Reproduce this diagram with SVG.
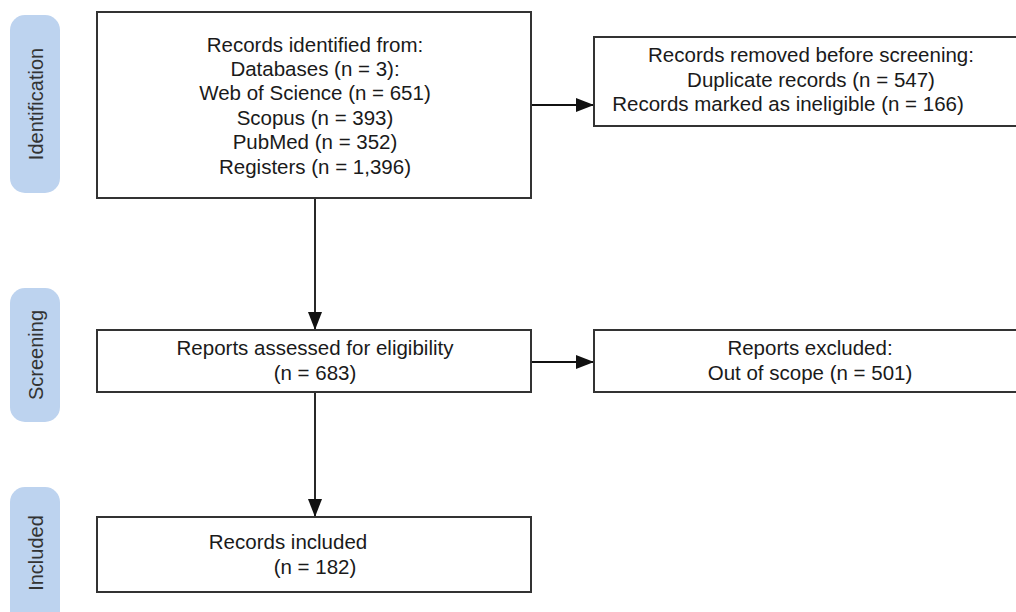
<svg xmlns="http://www.w3.org/2000/svg" width="1016" height="612" viewBox="0 0 1016 612">
  <defs>
    <style>
      .stage { fill: #bdd3ef; }
      .stage-label { font-family: "Liberation Sans", Arial, sans-serif; font-size: 20px; fill: #333333; text-anchor: middle; }
      .box { fill: #ffffff; stroke: #333333; stroke-width: 2; }
      .txt { font-family: "Liberation Sans", Arial, sans-serif; font-size: 20.5px; fill: #1a1a1a; text-anchor: middle; }
      .edge { stroke: #111111; stroke-width: 1.8; fill: none; marker-end: url(#arrow); }
    </style>
    <marker id="arrow" viewBox="0 0 18 14" refX="18" refY="7" markerWidth="18" markerHeight="14" markerUnits="userSpaceOnUse" orient="auto">
      <path d="M0,0 L18,7 L0,14 Z" fill="#111111"/>
    </marker>
  </defs>
  <rect width="1016" height="612" fill="#ffffff"/>

  <!-- stage bands -->
  <g id="stage-identification">
    <rect class="stage" x="10" y="15" width="50" height="178" rx="15" ry="15"/>
    <text class="stage-label" transform="translate(43,104) rotate(-90)">Identification</text>
  </g>
  <g id="stage-screening">
    <rect class="stage" x="10" y="288" width="50" height="134" rx="15" ry="15"/>
    <text class="stage-label" transform="translate(43,355) rotate(-90)">Screening</text>
  </g>
  <g id="stage-included">
    <rect class="stage" x="10" y="487" width="50" height="140" rx="15" ry="15"/>
    <text class="stage-label" transform="translate(43,553) rotate(-90)">Included</text>
  </g>

  <!-- connectors -->
  <g id="connectors">
    <line class="edge" x1="531" y1="105" x2="594" y2="105"/>
    <line class="edge" x1="315" y1="198" x2="315" y2="330"/>
    <line class="edge" x1="531" y1="362" x2="594" y2="362"/>
    <line class="edge" x1="315" y1="392" x2="315" y2="517"/>
  </g>

  <g id="records-identified">
    <rect class="box" x="97" y="12" width="434" height="186"/>
    <text class="txt" x="315" y="52">Records identified from:</text>
    <text class="txt" x="315" y="76">Databases (n = 3):</text>
    <text class="txt" x="315" y="100">Web of Science (n = 651)</text>
    <text class="txt" x="315" y="125">Scopus (n = 393)</text>
    <text class="txt" x="315" y="149">PubMed (n = 352)</text>
    <text class="txt" x="315" y="174">Registers (n = 1,396)</text>
  </g>

  <g id="records-removed">
    <rect class="box" x="594" y="37" width="424" height="89"/>
    <text class="txt" x="811" y="62">Records removed before screening:</text>
    <text class="txt" x="811" y="87">Duplicate records (n = 547)</text>
    <text class="txt" x="788" y="111">Records marked as ineligible (n = 166)</text>
  </g>

  <g id="reports-assessed">
    <rect class="box" x="97" y="330" width="434" height="62"/>
    <text class="txt" x="315" y="355">Reports assessed for eligibility</text>
    <text class="txt" x="315" y="380">(n = 683)</text>
  </g>

  <g id="reports-excluded">
    <rect class="box" x="594" y="330" width="424" height="62"/>
    <text class="txt" x="810" y="355">Reports excluded:</text>
    <text class="txt" x="810" y="380">Out of scope (n = 501)</text>
  </g>

  <g id="records-included">
    <rect class="box" x="97" y="517" width="434" height="75"/>
    <text class="txt" x="288" y="549">Records included</text>
    <text class="txt" x="315" y="574">(n = 182)</text>
  </g>
</svg>
